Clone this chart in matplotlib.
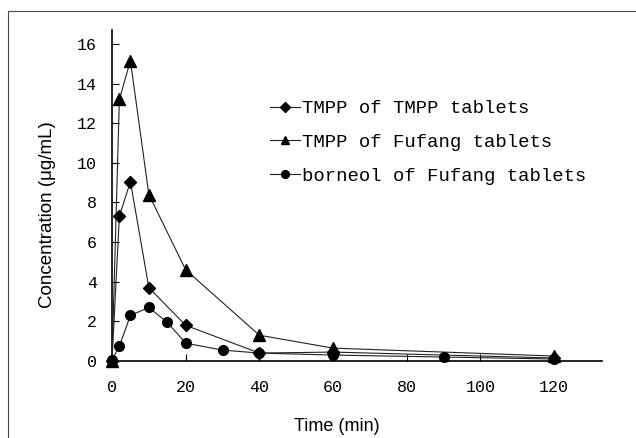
import matplotlib
matplotlib.use("Agg")
import matplotlib.pyplot as plt
from matplotlib.patches import Rectangle

# Data
t_tmpp = [0, 2, 5, 10, 20, 40, 60, 120]
c_tmpp = [0.0, 7.3, 9.05, 3.7, 1.8, 0.4, 0.45, 0.15]

t_fufang = [0, 2, 5, 10, 20, 40, 60, 120]
c_fufang = [0.0, 13.2, 15.15, 8.4, 4.6, 1.3, 0.65, 0.25]

t_borneol = [0, 2, 5, 10, 15, 20, 30, 40, 60, 90, 120]
c_borneol = [0.05, 0.75, 2.3, 2.7, 1.95, 0.9, 0.55, 0.4, 0.3, 0.2, 0.1]

labels = ["TMPP of TMPP tablets", "TMPP of Fufang tablets", "borneol of Fufang tablets"]
xticks = [0, 20, 40, 60, 80, 100, 120]
yticks = [0, 2, 4, 6, 8, 10, 12, 14, 16]

fig = plt.figure(figsize=(6.36, 4.38), dpi=100)
fig.patches.append(Rectangle((8/636, -0.2), 1.2, 0.2 + 1 - 11/438, transform=fig.transFigure,
                             fill=False, edgecolor="#444444", linewidth=0.8))
ax = fig.add_axes([112/636, 1 - 361/438, (602 - 112)/636, (361 - 30)/438])

lc = "#222222"
ax.plot(t_tmpp, c_tmpp, color=lc, lw=0.8, marker="D", ms=6, mfc="black", mec="black", label=labels[0], clip_on=False, zorder=3)
ax.plot(t_fufang, c_fufang, color=lc, lw=0.8, marker="^", ms=8, mfc="black", mec="black", label=labels[1], clip_on=False, zorder=3)
ax.plot(t_borneol, c_borneol, color=lc, lw=0.8, marker="o", ms=7, mfc="black", mec="black", label=labels[2], clip_on=False, zorder=3)

ax.set_xlim(0, 133)
ax.set_ylim(0, 16.7)
ax.set_xticks(xticks)
ax.set_yticks(yticks)
ax.spines["top"].set_visible(False)
ax.spines["right"].set_visible(False)
for s in ["left", "bottom"]:
    ax.spines[s].set_linewidth(1.2)
    ax.spines[s].set_color("black")
ax.tick_params(direction="in", length=5, width=0.8, labelsize=12,
               labelfontfamily="Liberation Mono")
ax.tick_params(axis="x", pad=14)
ax.tick_params(axis="y", pad=11)
ax.set_xlabel("Time (min)", fontsize=13, family="Liberation Sans")
ax.set_ylabel("Concentration (\u03bcg/mL)", fontsize=13.5, family="Liberation Sans")
ax.xaxis.set_label_coords(0.459, -0.199)
ax.yaxis.set_label_coords(-0.131, 0.441)
ax.xaxis.label.set_va("center")
ax.yaxis.label.set_va("center")

leg = ax.legend(loc="upper left", bbox_to_anchor=(0.322, 0.788), frameon=False,
                prop={"family": "Liberation Mono", "size": 13.6},
                handlelength=1.6, handletextpad=0.1, labelspacing=0.87, markerscale=0.8,
                borderpad=0, borderaxespad=0)

fig.savefig("out.png", dpi=100)
